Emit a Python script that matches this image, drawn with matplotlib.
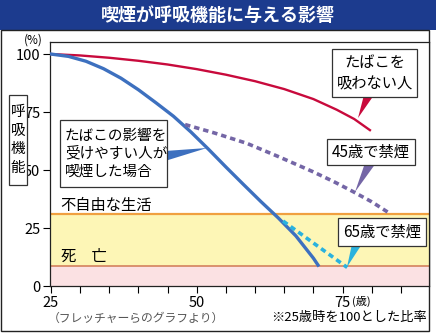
import numpy as np
import matplotlib.pyplot as plt
from matplotlib.patches import Rectangle, Polygon

plt.rcParams['font.family'] = ['Noto Sans CJK JP', 'DejaVu Sans']

# data (age, % of lung function at age 25)
never_age = [25, 30, 35, 40, 45, 50, 55, 60, 65, 70, 74, 77, 79.7]
never_val = [100, 99.4, 98.4, 97.1, 95.5, 93.5, 91.1, 88.3, 84.9, 80.6, 76.0, 72.0, 67.2]

smoker_age = [25, 28, 31, 34, 37, 40, 43, 46, 49, 52, 55, 58, 61, 64, 67, 70, 70.8]
smoker_val = [100, 99.0, 96.9, 93.7, 89.6, 84.6, 79.0, 73.2, 66.4, 59.0, 51.3, 43.8, 36.4, 29.3, 21.6, 12.0, 9.0]

quit45_age = [48.0, 53.0, 58.6, 64.0, 69.9, 73.5, 76.8, 80.0, 83.1]
quit45_val = [69.6, 66.0, 61.5, 55.8, 49.3, 45.0, 40.7, 36.3, 31.3]

quit65_age = [64.8, 75.8]
quit65_val = [28.0, 8.0]

disabled_level = 31.0
death_level = 8.6

xticks_major = [25, 50, 75]
xticks_minor = [30, 35, 40, 45, 55, 60, 65, 70, 80, 85]
yticks = [0, 25, 50, 75, 100]

W, H = 436, 333

def fx(x):
    return x / W

def fy(y):
    return 1 - y / H

fig = plt.figure(figsize=(W / 100, H / 100), dpi=100)
ax = fig.add_axes([fx(50), fy(286), 379 / W, 244 / H])

# title band + outer frame
fig.add_artist(Rectangle((0, fy(30)), 1, 30 / H, transform=fig.transFigure,
                         facecolor='#1c3b8e', edgecolor='none', zorder=0))
fig.text(fx(218), fy(15), '喫煙が呼吸機能に与える影響', color='white',
         fontsize=13, fontweight='bold', ha='center', va='center')
fig.add_artist(Rectangle((fx(1), fy(331)), fx(428), 301 / H, transform=fig.transFigure,
                         facecolor='none', edgecolor='#222222', lw=1, zorder=0))

# background bands
ax.axhspan(0, death_level, color='#fbe1e3', lw=0, zorder=0)
ax.axhspan(death_level, disabled_level, color='#fdf6b6', lw=0, zorder=0)
ax.axhline(disabled_level, color='#f0a040', lw=1.6, zorder=1)
ax.axhline(death_level, color='#d4825e', lw=1.2, zorder=1)

ax.plot(never_age, never_val, color='#c80a3c', lw=1.7, zorder=3)
ax.plot(smoker_age, smoker_val, color='#3d70bf', lw=2.4, zorder=3)
ax.plot(quit45_age, quit45_val, color='#7466a6', lw=2.6, ls=(0, (1.5, 1.1)), zorder=3)
ax.plot(quit65_age, quit65_val, color='#2ab2de', lw=2.6, ls=(0, (1.5, 1.1)), zorder=3)

ax.set_xlim(24.83, 89.83)
ax.set_ylim(0, 105.2)
ax.set_xticks(xticks_major)
ax.set_xticks(xticks_minor, minor=True)
ax.set_yticks(yticks)
ax.tick_params(axis='both', which='both', direction='out', length=5, width=0.8,
               labelsize=10.5, pad=2)
for s in ax.spines.values():
    s.set_linewidth(0.9)
    s.set_color('#222222')

fig.text(fx(33), fy(40), '(%)', fontsize=8.5, ha='center', va='center')
fig.text(fx(352), fy(301), '(歳)', fontsize=8, ha='left', va='center')

# y label box
fig.add_artist(Rectangle((fx(9), fy(185)), 18 / W, 90 / H, transform=fig.transFigure,
                         facecolor='white', edgecolor='#333333', lw=0.9))
fig.text(fx(18), fy(140), '呼\n吸\n機\n能', fontsize=10.5, ha='center', va='center',
         linespacing=1.45)

ax.text(0.026, disabled_level + 3.5, '不自由な生活', transform=ax.get_yaxis_transform(),
        fontsize=11, va='center', ha='left')
ax.text(0.03, death_level + 4, '死　亡', transform=ax.get_yaxis_transform(),
        fontsize=11, va='center', ha='left')


def callout(x0, y0, x1, y1, lines, tri, color, size, align='center'):
    fig.add_artist(Polygon([(fx(a), fy(b)) for a, b in tri], closed=True,
                           transform=fig.transFigure, facecolor=color,
                           edgecolor='none', zorder=4))
    fig.add_artist(Rectangle((fx(x0), fy(y1)), (x1 - x0) / W, (y1 - y0) / H,
                             transform=fig.transFigure, facecolor='white',
                             edgecolor='#333333', lw=0.9, zorder=5))
    if align == 'center':
        fig.text(fx((x0 + x1) / 2), fy((y0 + y1) / 2), lines, fontsize=size,
                 ha='center', va='center', linespacing=1.3, zorder=6)
    else:
        fig.text(fx(x0 + 5), fy((y0 + y1) / 2), lines, fontsize=size,
                 ha='left', va='center', linespacing=1.3, zorder=6)


callout(332, 49, 417, 97, 'たばこを\n吸わない人',
        [(364, 95), (374, 95), (358, 118)], '#c80a3c', 11)
callout(327, 139, 415, 165, '45歳で禁煙',
        [(365, 163), (376, 163), (355, 192)], '#7466a6', 11)
callout(338, 218, 426, 246, '65歳で禁煙',
        [(352, 244), (362, 244), (347, 267)], '#2ab2de', 11)
callout(60, 120, 167, 187, 'たばこの影響を\n受けやすい人が\n喫煙した場合',
        [(165, 151), (165, 161), (207, 148)], '#3d70bf', 10.5, align='left')

fig.text(fx(48), fy(318), '（フレッチャーらのグラフより）', fontsize=8.5,
         color='#555555', ha='left', va='center')
fig.text(fx(427), fy(318), '※25歳時を100とした比率', fontsize=9.5,
         ha='right', va='center')

fig.savefig('out.png', dpi=100)
